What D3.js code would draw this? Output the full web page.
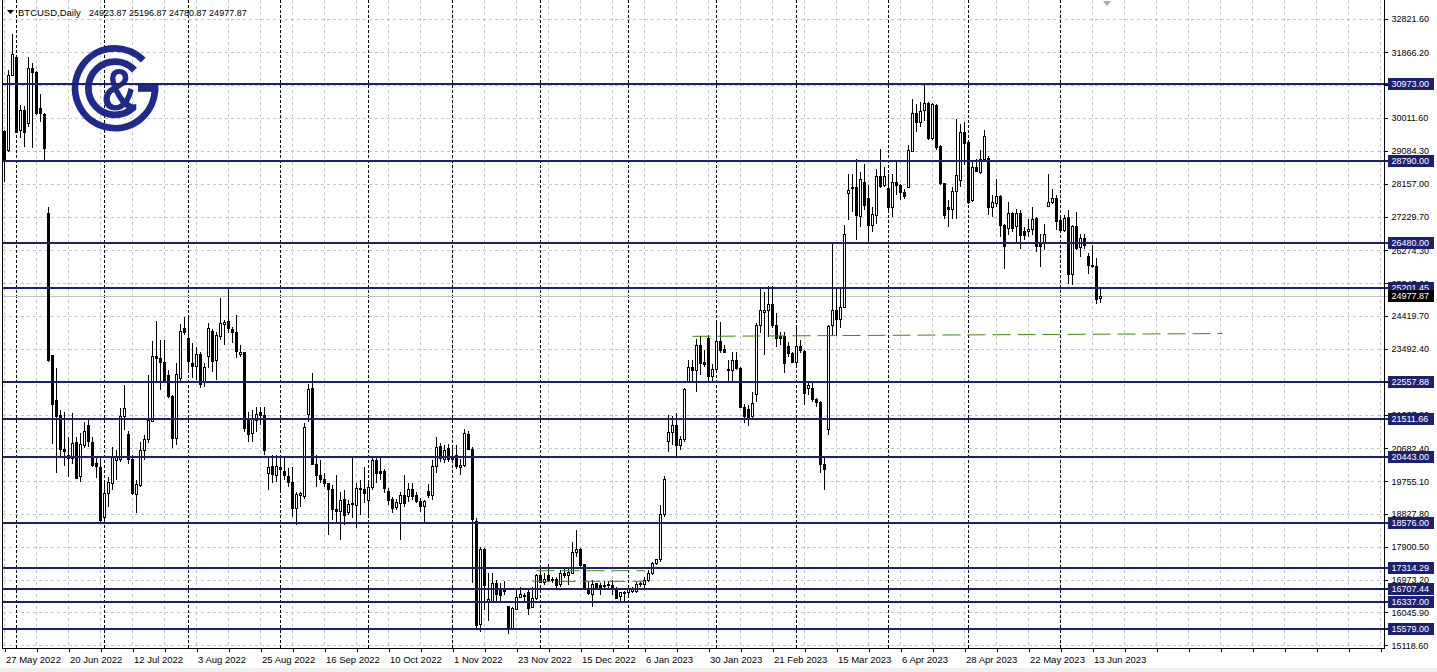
<!DOCTYPE html>
<html><head><meta charset="utf-8">
<script src="https://cdn.jsdelivr.net/npm/d3@7"></script>
<style>html,body{margin:0;padding:0;background:#fff;overflow:hidden}svg{display:block}</style>
</head><body>
<svg id="chart" width="1437" height="672"></svg>
<script>
// ---------------- DATA ----------------
const firstBarDate = "2022-05-27"; // weekday (Mon-Fri) daily bars
const openP = [
29627,29109,31228,31727,29674,30220,29862,31416,31300,30286,
30117,27320,23300,22029,21624,20654,20466,20400,20852,19882,
20767,21332,20852,20259,20146,18724,19411,19694,20334,20353,
21577,21087,20372,19383,19637,20635,20918,21436,23290,23224,
23111,22754,22142,20965,22660,24072,23789,23083,22989,23347,
22537,23290,23978,23159,23836,24185,24260,24044,23959,23337,
23394,21502,21106,21455,21690,21624,19976,20164,19929,20146,
20023,19882,19731,18988,19364,19336,21652,22377,20230,19920,
19807,19675,19506,18941,18894,19242,18865,19129,19054,19553,
19506,19223,19572,20334,20040,20042,19477,19242,19007,19129,
19364,19336,19525,19364,19176,19035,19458,19364,20183,20729,
20372,20682,20447,20494,20142,20208,21081,20649,18629,15697,
17830,16360,16355,16853,16702,16684,16214,15603,16139,16477,
16533,16608,16195,16449,17088,16900,17088,16984,16984,16825,
17153,17088,17153,17736,17811,17388,16731,16543,16853,16796,
16778,16796,16796,16684,16496,16571,16608,16637,16637,16825,
16825,16937,17153,17435,17529,18817,20874,21128,21316,20752,
20921,22566,22960,22894,23600,23101,23787,22707,22914,23693,
23477,22914,22894,23177,22942,21842,21786,21579,22190,24163,
24520,24567,24755,24163,23853,23834,23552,23364,23101,23552,
23411,22378,22378,22049,21983,20236,21203,24163,24586,24332,
24661,27894,28063,28063,27236,28204,27734,26982,27264,28364,
28110,28016,27499,28204,28110,27922,28063,29078,30149,29895,
30224,30412,29426,30365,29210,28157,27499,27424,27950,28251,
29614,29332,27687,28627,28486,28834,28862,27499,27612,27800,
26982,26888,27311,26935,27311,26794,26794,26860,27170,26484,
26466,27518,27640,27734,27105,26841,27217,25601,26935,26350,
26614,26115,25861,25833,24923.87];
const highP = [
29674,31369,32386,31793,30380,30352,31727,31560,31350,30691,
30145,27489,23330,22942,21765,21718,21012,21690,21012,21106,
21417,21483,21012,20447,20400,19741,19882,20729,20635,21811,
22471,21181,20494,19788,20871,21059,22754,23723,24279,23742,
23742,22895,22189,23083,24185,24401,24401,23648,23554,23413,
23083,24232,24044,23978,24919,24307,25249,24119,24448,23601,
23413,21718,21765,21859,21840,21859,20447,20494,20494,20447,
20400,20118,20165,19458,19458,21389,22500,22801,20494,20353,
19976,19694,19647,19929,19458,19506,19223,20400,19694,19788,
20165,19700,20447,20466,20447,20089,19553,19317,19242,19458,
19929,19694,19713,19458,19270,19223,19675,20353,21012,20824,
20777,20805,20748,20777,20395,21241,21175,20724,18704,17905,
17858,17150,17153,16965,16871,16947,16233,16214,16684,16778,
16608,16684,16778,17135,17388,17153,17417,17060,17060,17247,
17294,17266,18046,18375,17858,17417,16919,16965,16890,16871,
16947,16947,16965,16778,16637,16665,16778,16778,16919,16919,
17060,17247,17482,17548,19080,19898,21626,21607,21673,21034,
22378,23177,23177,23759,23853,23459,23881,23064,24257,24257,
23600,23177,23412,23412,22989,21927,21908,22284,24210,25225,
25103,25263,25263,24492,23975,23975,23693,23412,24097,23740,
23459,22566,22538,22096,22021,20405,24163,26466,25244,25197,
26982,28439,28439,28862,28486,28721,28110,27499,28580,29144,
28627,28439,28439,28768,28157,28016,29238,30553,30412,30459,
31004,30459,30440,30412,29238,28176,27687,28063,29990,29849,
29896,29379,28815,28862,29097,29661,28928,27828,28298,27828,
27029,27640,27358,27452,27405,26935,27170,27499,27217,26747,
27029,28420,28016,27828,27217,27264,27405,26982,27358,26750,
26750,26200,26419,26070,25196.87];
const lowP = [
28215,29062,31199,29580,29439,29203,29768,29156,30100,29909,
28780,23130,20795,19995,20447,20183,19882,20230,19807,19741,
20682,20729,20165,19835,18564,18592,19035,19506,19788,20306,
21200,20240,19364,18865,19600,20353,20824,21417,22518,22330,
22518,22095,20682,20777,22565,23883,22895,22660,22613,22377,
22424,22942,22848,22613,23742,23601,23930,23648,23224,23272,
21153,20870,20870,21153,21341,20494,19506,19694,19741,19458,
19788,19600,18752,18517,19035,19242,21436,20212,19600,19694,
19600,18235,18658,18611,18093,18517,18799,18705,18423,18799,
19129,18752,19506,19694,19788,19411,19082,18847,18941,18093,
19035,19176,19223,19129,18894,18611,19270,19223,19976,20306,
20259,20306,20334,20089,19926,20160,20630,16871,15556,15481,
16120,15800,16308,16355,16355,16543,15443,15556,16120,16449,
16355,15979,16167,16402,16871,16825,16919,16890,16684,16778,
17013,16825,17125,17623,17341,16700,16543,16214,16702,16543,
16684,16684,16543,16420,16355,16308,16514,16590,16608,16778,
16684,16919,17107,17388,17482,18751,20593,20780,20404,20639,
20874,22519,22566,22284,22754,22989,22519,22566,22848,23383,
23364,22566,22566,22894,21814,21410,21316,21485,22002,23928,
23318,23834,24069,23552,23600,22801,23271,23083,23036,23364,
21908,22190,22002,21861,19982,19493,21062,23881,23862,24069,
24633,27123,27358,26560,26935,27405,26466,26794,27029,28044,
28063,27405,27217,27828,27687,27734,28044,29050,29614,29755,
29943,29379,29379,29097,28110,27170,26935,27170,27170,28063,
28674,27593,27640,28486,28439,28768,27264,27217,27499,26654,
25761,26701,26794,26466,26325,26560,26654,26701,26231,25808,
26278,27499,27593,26841,26794,26794,25338,25291,26278,26100,
26300,25600,25790,24770,24780.87];
const closeP = [
28827,31228,31795,29599,30220,29599,31416,31300,30145,30145,
29156,23159,21925,21577,20654,20588,20400,20805,19835,20777,
21163,20870,20202,20174,18658,19393,19713,20447,20447,21577,
21811,20372,19411,19647,20635,20918,21464,23290,23224,23102,
22537,22142,20965,22782,23978,23949,23130,23008,23319,22499,
22961,24072,23130,23865,24213,24241,24072,23959,23413,23394,
21247,21087,21483,21652,21624,20616,20146,19948,20183,20071,
19929,19722,18969,19383,19393,21276,22358,20230,19929,19807,
19694,19506,18941,18894,19223,18799,19110,19082,19553,19506,
19393,19572,20334,19976,19980,19534,19223,18988,19157,19346,
19129,19525,19317,19176,19035,19176,19346,20165,20711,20400,
20635,20372,20381,20165,20208,21100,20649,18676,15669,17830,
16796,16400,16871,16543,16514,16637,15603,16148,16477,16543,
16496,16167,16449,17078,16900,16984,16947,16947,16796,17153,
17078,17172,17736,17811,17370,16731,16571,16825,16731,16759,
16796,16843,16684,16449,16608,16599,16712,16731,16825,16871,
16937,17153,17435,17529,18826,19813,21128,21316,20752,20921,
22331,22960,22894,23600,23083,23064,22707,22914,23693,23459,
23383,22894,23177,22942,21842,21579,21504,21955,24163,24567,
24586,24755,24163,23787,23787,23083,23364,23101,23552,23439,
22218,22444,22049,21983,20217,20076,24135,24586,24332,24661,
26719,27969,28016,27264,28270,27546,26982,27292,28364,28082,
28364,27499,28204,28110,27922,27800,29097,30149,29895,30206,
30412,29426,30393,29191,28157,27264,27424,27950,28392,29614,
29285,27640,28627,28514,28834,29491,27499,27640,27809,26982,
26372,27311,26888,27311,26701,26701,26860,27142,26372,26390,
26719,27640,27734,27076,26841,27170,25601,26935,26325,26610,
26426,25861,25814,24891,24977.87];

const timeLabels = ["27 May 2022","20 Jun 2022","12 Jul 2022","3 Aug 2022","25 Aug 2022","16 Sep 2022",
  "10 Oct 2022","1 Nov 2022","23 Nov 2022","15 Dec 2022","6 Jan 2023","30 Jan 2023","21 Feb 2023",
  "15 Mar 2023","6 Apr 2023","28 Apr 2023","22 May 2023","13 Jun 2023"];
const priceTicks = [32821.60,31866.20,30938.90,30011.60,29084.30,28157.00,27229.70,26274.30,25347.00,
  24419.70,23492.40,22565.10,21637.80,20682.40,19755.10,18827.80,17900.50,16973.20,16045.90,15118.60];
const levelPrices = [30973.00,28790.00,26480.00,25201.45,22557.88,21511.66,20443.00,18576.00,17314.29,16707.44,16337.00,15579.00];
const lastPrice = 24977.87;
const symbolText = "BTCUSD,Daily";
const headerOHLC = [24923.87, 25196.87, 24780.87, 24977.87];
// green trend lines: start bar, end bar, start price, end price
const trendStartBar = [133, 132, 172];
const trendEndBar = [160, 160, 304.5];
const trendStartPrice = [17226, 16926, 23846];
const trendEndPrice = [17226, 16926, 23925];

// ---------------- BUILD ----------------
const W = 1437, H = 672;
const plotRight = 1384.5, plotBottom = 648.5, plotLeft = 2.5;
const FONT = "'Liberation Sans', Arial, sans-serif";
const NAVY = "#1b206f";

const svg = d3.select("#chart");
svg.append("rect").attr("width", W).attr("height", H).attr("fill", "#fff");
svg.append("rect").attr("x", 0).attr("y", 668).attr("width", W).attr("height", 4).attr("fill", "#efefef");

// bar dates (weekdays)
const dates = [];
{ const d = new Date(firstBarDate + "T00:00:00Z");
  while (dates.length < closeP.length) { const wd = d.getUTCDay(); if (wd !== 0 && wd !== 6) dates.push(new Date(d)); d.setUTCDate(d.getUTCDate() + 1); } }

const x = d3.scaleLinear().domain([0, 345]).range([4.5, 1384.5]);
const y = d3.scaleLinear().domain([15118.6, 32821.6]).range([645.3, 18.6]);

const bars = closeP.map((c, i) => ({i, o: openP[i], h: highP[i], l: lowP[i], c, date: dates[i]}));

// grid
const grid = svg.append("g").attr("shape-rendering", "crispEdges");
const gridBars = d3.range(0, 345, 8);
grid.selectAll(".vg").data(gridBars).join("line")
  .attr("x1", d => x(d)).attr("x2", d => x(d)).attr("y1", 0).attr("y2", plotBottom)
  .attr("stroke", "#c6c6c6").attr("stroke-dasharray", "3,3");
grid.selectAll(".hg").data(priceTicks).join("line")
  .attr("x1", plotLeft).attr("x2", plotRight).attr("y1", d => Math.round(y(d)) + 0.5).attr("y2", d => Math.round(y(d)) + 0.5)
  .attr("stroke", "#c6c6c6").attr("stroke-dasharray", "3,3");

// month separators
const monthStarts = bars.filter((b, i) => i > 0 && b.date.getUTCMonth() !== bars[i - 1].date.getUTCMonth());
grid.selectAll(".sep").data(monthStarts).join("line")
  .attr("x1", d => x(d.i)).attr("x2", d => x(d.i)).attr("y1", 0).attr("y2", plotBottom)
  .attr("stroke", "#000").attr("stroke-dasharray", "3,2");

// logo
const logo = svg.append("g").attr("fill", "none").attr("stroke", "#1e2a8c");
const cx = 115, cy = 88.3;
function arcPath(r, a0, a1) { // degrees, clockwise from +x (svg)
  const p0 = [cx + r * Math.cos(a0 * Math.PI / 180), cy + r * Math.sin(a0 * Math.PI / 180)];
  const p1 = [cx + r * Math.cos(a1 * Math.PI / 180), cy + r * Math.sin(a1 * Math.PI / 180)];
  const large = (a1 - a0) > 180 ? 1 : 0;
  return `M${p0[0]},${p0[1]} A${r},${r} 0 ${large} 1 ${p1[0]},${p1[1]}`;
}
logo.append("path").attr("d", arcPath(39.9, 0, 315)).attr("stroke-width", 6.8);
logo.append("path").attr("d", arcPath(26.6, 47, 317)).attr("stroke-width", 6.8);
svg.append("rect").attr("x", 138).attr("y", 85).attr("width", 20.4).attr("height", 6.8).attr("fill", "#1e2a8c");
svg.append("text").attr("x", 0).attr("y", 0).attr("transform", "translate(119.5,110) scale(0.86,1)")
  .attr("text-anchor", "middle").attr("font-family", FONT).attr("font-weight", "bold").attr("font-size", 59)
  .attr("fill", "#1e2a8c").text("&");

// current price line
svg.append("line").attr("x1", plotLeft).attr("x2", plotRight + 3).attr("y1", Math.round(y(lastPrice)) + 0.5).attr("y2", Math.round(y(lastPrice)) + 0.5)
  .attr("stroke", "#c0c0c0").attr("shape-rendering", "crispEdges");

// candles
const cg = svg.append("g").attr("shape-rendering", "crispEdges");
cg.selectAll(".wick").data(bars).join("line")
  .attr("x1", d => x(d.i)).attr("x2", d => x(d.i)).attr("y1", d => y(d.h)).attr("y2", d => y(d.l)).attr("stroke", "#000");
cg.selectAll(".body").data(bars).join("rect")
  .attr("x", d => x(d.i) - 1).attr("width", 2)
  .attr("y", d => y(Math.max(d.o, d.c)))
  .attr("height", d => Math.max(0.6, Math.abs(y(d.o) - y(d.c))))
  .attr("fill", d => d.c >= d.o ? "#fff" : "#000").attr("stroke", "#000").attr("stroke-width", 1);

// horizontal levels
svg.append("g").selectAll("line").data(levelPrices).join("line")
  .attr("x1", plotLeft).attr("x2", plotRight + 3).attr("y1", d => Math.round(y(d))).attr("y2", d => Math.round(y(d)))
  .attr("stroke", NAVY).attr("stroke-width", 2).attr("shape-rendering", "crispEdges");

// green dashed trend lines
svg.append("g").selectAll("line").data(trendStartBar).join("line")
  .attr("x1", (d) => x(d)).attr("x2", (d, k) => x(trendEndBar[k]))
  .attr("y1", (d, k) => y(trendStartPrice[k])).attr("y2", (d, k) => y(trendEndPrice[k]))
  .attr("stroke", "#3c8c00").attr("stroke-width", 1).attr("stroke-dasharray", "18,7");

// frame
svg.append("line").attr("x1", plotLeft).attr("x2", plotLeft).attr("y1", 0).attr("y2", plotBottom).attr("stroke", "#000").attr("shape-rendering", "crispEdges");
svg.append("line").attr("x1", plotRight).attr("x2", plotRight).attr("y1", 0).attr("y2", plotBottom).attr("stroke", "#000").attr("shape-rendering", "crispEdges");
svg.append("line").attr("x1", plotLeft).attr("x2", plotRight).attr("y1", plotBottom).attr("y2", plotBottom).attr("stroke", "#000").attr("shape-rendering", "crispEdges");

// right price axis
const yAxis = d3.axisRight(y).tickValues(priceTicks).tickFormat(d3.format(".2f")).tickSizeInner(3).tickSizeOuter(0).tickPadding(4);
const gy = svg.append("g").attr("transform", `translate(${plotRight},0)`).call(yAxis);
gy.select(".domain").remove();
gy.attr("font-family", FONT).attr("font-size", 9);
gy.selectAll("line").attr("stroke", "#000").attr("shape-rendering", "crispEdges");
gy.selectAll("text").attr("fill", "#000");

// bottom time axis
const xAxis = d3.axisBottom(x).tickValues(gridBars)
  .tickFormat(i => (i % 16 === 0 && i / 16 < timeLabels.length) ? timeLabels[i / 16] : "")
  .tickSizeInner(3).tickSizeOuter(0);
const gx = svg.append("g").attr("transform", `translate(0,${plotBottom})`).call(xAxis);
gx.select(".domain").remove();
gx.attr("font-family", FONT).attr("font-size", 9.5);
gx.selectAll("line").attr("stroke", "#000").attr("shape-rendering", "crispEdges");
gx.selectAll("text").attr("text-anchor", "start").attr("x", 1).attr("y", 14).attr("dy", 0).attr("fill", "#000");

// level value boxes
const lb = svg.append("g");
levelPrices.forEach(v => {
  const yy = Math.round(y(v));
  lb.append("rect").attr("x", 1388).attr("y", yy - 6).attr("width", 46).attr("height", 12).attr("fill", NAVY);
  lb.append("text").attr("x", 1391.5).attr("y", yy + 3.3).attr("font-family", FONT).attr("font-size", 9).attr("fill", "#fff").text(d3.format(".2f")(v));
});
{ const yy = Math.round(y(lastPrice));
  lb.append("rect").attr("x", 1388).attr("y", yy - 6).attr("width", 46).attr("height", 12).attr("fill", "#000");
  lb.append("text").attr("x", 1391.5).attr("y", yy + 3.3).attr("font-family", FONT).attr("font-size", 9).attr("fill", "#fff").text(d3.format(".2f")(lastPrice)); }

// header
svg.append("path").attr("d", "M7,10 L14,10 L10.5,14 Z").attr("fill", "#000");
svg.append("text").attr("x", 18).attr("y", 15.5).attr("font-family", FONT).attr("font-size", 9.5).attr("fill", "#000").text(symbolText);
svg.append("text").attr("x", 89).attr("y", 15.5).attr("font-family", FONT).attr("font-size", 9).attr("fill", "#000")
  .text(headerOHLC.map(d3.format(".2f")).join(" "));

// chart shift marker
svg.append("path").attr("d", "M1103,1 L1111,1 L1107,6 Z").attr("fill", "#a8a8a8");
</script>
</body></html>
